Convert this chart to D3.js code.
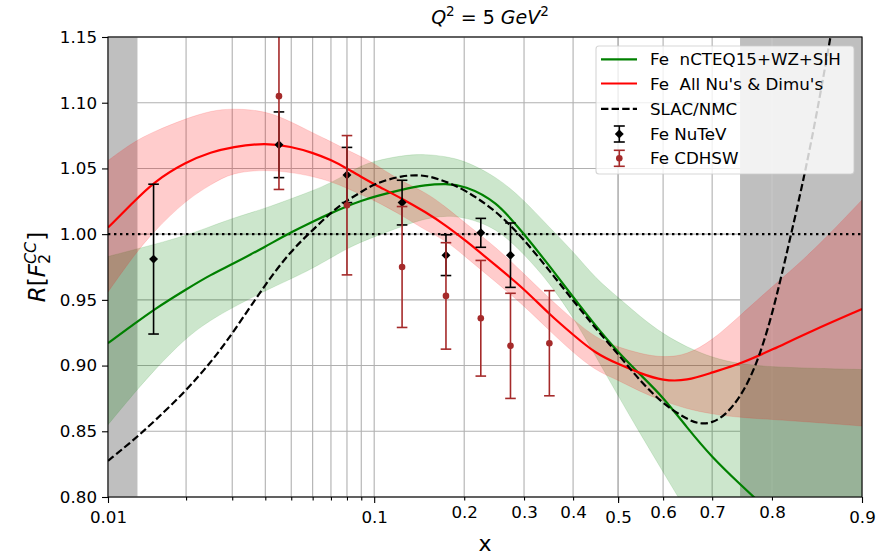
<!DOCTYPE html>
<html><head><meta charset="utf-8">
<script src="https://cdn.jsdelivr.net/npm/d3@7"></script>
<style>
body{margin:0;background:#fff;}
svg{display:block;font-family:"DejaVu Sans",sans-serif;}
</style></head><body>
<svg id="chart" width="889" height="557"></svg>
<script>
// ---------------- data ----------------
const xGrid = [0.01,0.0125,0.015,0.02,0.025,0.03,0.04,0.05,0.06,0.07,0.08,0.09,0.1,0.125,0.15,0.175,0.2,0.25,0.3,0.35,0.4,0.45,0.5,0.55,0.6,0.65,0.7,0.75,0.8,0.85,0.9];
const nctqCentral = [0.917,0.931,0.9425,0.958,0.9695,0.977,0.9905,1.0015,1.0095,1.016,1.0213,1.0253,1.0285,1.034,1.0375,1.0385,1.037,1.0255,1.000,0.976,0.952,0.930,0.910,0.893,0.876,0.853,0.830,0.8097,0.787,0.76,0.72];
const nctqUpper = [0.983,0.988,0.992,0.999,1.006,1.012,1.0196,1.027,1.033,1.039,1.046,1.052,1.0555,1.060,1.061,1.059,1.056,1.044,1.026,1.005,0.987,0.966,0.952,0.937,0.924,0.914,0.906,0.901,0.899,0.898,0.897];
const nctqLower = [0.855,0.878,0.896,0.9215,0.935,0.944,0.957,0.966,0.974,0.982,0.989,0.994,0.998,1.006,1.012,1.014,1.013,1.005,0.985,0.963,0.937,0.907,0.877,0.848,0.819,0.789,0.758,0.727,0.695,0.665,0.63];
const nuCentral = [1.005,1.024,1.0397,1.055,1.0625,1.0664,1.0695,1.0666,1.062,1.0565,1.050,1.0435,1.038,1.027,1.0168,1.0066,0.996,0.976,0.9584,0.939,0.9235,0.909,0.9012,0.894,0.8884,0.8884,0.8948,0.9012,0.912,0.926,0.943];
const nuUpper = [1.056,1.070,1.078,1.088,1.094,1.0956,1.094,1.0855,1.077,1.0705,1.064,1.059,1.0537,1.0397,1.032,1.0206,1.009,0.990,0.9698,0.951,0.935,0.921,0.914,0.909,0.906,0.908,0.919,0.938,0.960,0.985,1.026];
const nuLower = [0.956,0.983,1.002,1.026,1.038,1.047,1.049,1.047,1.044,1.040,1.035,1.030,1.0257,1.0143,1.0028,0.9952,0.9835,0.9634,0.9456,0.9266,0.910,0.896,0.889,0.880,0.873,0.867,0.863,0.8605,0.859,0.857,0.854];
const slacX = [0.01,0.0125,0.015,0.02,0.025,0.03,0.04,0.05,0.06,0.07,0.08,0.09,0.1,0.125,0.15,0.175,0.2,0.25,0.3,0.35,0.4,0.45,0.5,0.55,0.6,0.65,0.675,0.7,0.725,0.75,0.775,0.8,0.825,0.85,0.875,0.9];
const slacY = [0.8275,0.843,0.857,0.8808,0.903,0.924,0.962,0.9876,1.003,1.0165,1.0257,1.032,1.0384,1.0448,1.0452,1.0400,1.034,1.018,0.996,0.9723,0.9495,0.928,0.9088,0.888,0.8707,0.8592,0.8555,0.8562,0.8625,0.8757,0.898,0.937,0.997,1.065,1.165,1.29];
const nutevX = [0.015,0.045,0.08,0.125,0.175,0.225,0.275];
const nutevY = [0.981,1.068,1.045,1.024,0.984,1.001,0.984];
const nutevErr = [0.057,0.025,0.021,0.017,0.0155,0.011,0.0245];
const cdhswX = [0.045,0.08,0.125,0.175,0.225,0.275,0.35];
const cdhswY = [1.105,1.022,0.975,0.953,0.936,0.915,0.917];
const cdhswErr = [0.071,0.053,0.046,0.0405,0.044,0.040,0.040];
const grayFrom = [0.01,0.75];
const grayTo = [0.013,0.9];
const xMajorTicks = [0.01,0.1,0.5,0.9];
const xMajorLabels = ["0.01","0.1","0.5","0.9"];
const xMinorTicks = [0.02,0.03,0.04,0.05,0.06,0.07,0.08,0.09,0.2,0.3,0.4,0.5,0.6,0.7,0.8];
const xMinorLabels = ["","","","","","","","","0.2","0.3","0.4","","0.6","0.7","0.8"];
const yTicks = [0.80,0.85,0.90,0.95,1.00,1.05,1.10,1.15];
const legendLabels = ["Fe  nCTEQ15+WZ+SIH","Fe  All Nu's & Dimu's","SLAC/NMC","Fe NuTeV","Fe CDHSW"];

// ---------------- setup ----------------
const W=889,H=557;
const plot={left:108,right:862,top:37,bottom:497};
const logit=p=>Math.log(p/(1-p));
const xScale=d3.scaleLinear().domain([logit(0.01),logit(0.9)]).range([plot.left,plot.right]);
const X=p=>xScale(logit(p));
const yScale=d3.scaleLinear().domain([0.80,1.15]).range([plot.bottom,plot.top]);
const GREEN="#008000", RED="#ff0000", BROWN="#a52a2a";

const svg=d3.select('#chart');
svg.append('rect').attr('width',W).attr('height',H).attr('fill','#fff');
svg.append('defs').append('clipPath').attr('id','clip').append('rect')
  .attr('x',plot.left).attr('y',plot.top).attr('width',plot.right-plot.left).attr('height',plot.bottom-plot.top);

// grid
const gGrid=svg.append('g');
gGrid.selectAll('line.v').data(xMinorTicks.concat(xMajorTicks)).join('line').attr('class','v')
  .attr('x1',d=>X(d)).attr('x2',d=>X(d)).attr('y1',plot.top).attr('y2',plot.bottom)
  .attr('stroke','#b0b0b0').attr('stroke-width',1.1);
gGrid.selectAll('line.h').data(yTicks).join('line').attr('class','h')
  .attr('y1',d=>yScale(d)).attr('y2',d=>yScale(d)).attr('x1',plot.left).attr('x2',plot.right)
  .attr('stroke','#b0b0b0').attr('stroke-width',1.1);

const g=svg.append('g').attr('clip-path','url(#clip)');
// gray excluded regions
g.selectAll('rect.gray').data(grayFrom.map((a,i)=>[a,grayTo[i]])).join('rect')
  .attr('x',d=>X(d[0])).attr('width',d=>X(d[1])-X(d[0]))
  .attr('y',plot.top).attr('height',plot.bottom-plot.top).attr('fill','#bfbfbf');
g.append('line').attr('x1',X(0.8)).attr('x2',X(0.8)).attr('y1',plot.top).attr('y2',plot.bottom)
  .attr('stroke','#c9c9c9').attr('stroke-width',1);

const curve=d3.curveBasis;
const band=(lo,hi)=>xGrid.map((x,i)=>({x,lo:lo[i],hi:hi[i]}));
const area=d3.area().x(d=>X(d.x)).y0(d=>yScale(d.lo)).y1(d=>yScale(d.hi)).curve(curve);
const line=d3.line().x(d=>X(d.x)).y(d=>yScale(d.y)).curve(curve);

g.append('path').attr('d',area(band(nctqLower,nctqUpper))).attr('fill',GREEN).attr('fill-opacity',0.2)
  .attr('stroke',GREEN).attr('stroke-opacity',0.12).attr('stroke-width',1);
g.append('path').attr('d',area(band(nuLower,nuUpper))).attr('fill',RED).attr('fill-opacity',0.2)
  .attr('stroke',RED).attr('stroke-opacity',0.12).attr('stroke-width',1);

// dotted line at 1
g.append('line').attr('x1',plot.left).attr('x2',plot.right).attr('y1',yScale(1)).attr('y2',yScale(1))
  .attr('stroke','#000').attr('stroke-width',2.4).attr('stroke-dasharray','2.4,3.6');

g.append('path').attr('d',line(xGrid.map((x,i)=>({x,y:nctqCentral[i]})))).attr('fill','none')
  .attr('stroke',GREEN).attr('stroke-width',2.2);
g.append('path').attr('d',line(xGrid.map((x,i)=>({x,y:nuCentral[i]})))).attr('fill','none')
  .attr('stroke',RED).attr('stroke-width',2.2);
g.append('path').attr('d',line(slacX.map((x,i)=>({x,y:slacY[i]})))).attr('fill','none')
  .attr('stroke','#000').attr('stroke-width',2.2).attr('stroke-dasharray','7.4,3.2');

// error bars
function errorbars(xs,ys,es,color,marker){
  const eg=g.append('g');
  const cap=5.3;
  xs.forEach((x,i)=>{
    const cx=X(x), y0=yScale(ys[i]-es[i]), y1=yScale(ys[i]+es[i]);
    eg.append('line').attr('x1',cx).attr('x2',cx).attr('y1',y0).attr('y2',y1).attr('stroke',color).attr('stroke-width',1.6);
    [y0,y1].forEach(yy=>eg.append('line').attr('x1',cx-cap).attr('x2',cx+cap).attr('y1',yy).attr('y2',yy).attr('stroke',color).attr('stroke-width',1.6));
    if(marker==='D'){
      eg.append('path').attr('d',d3.symbol(d3.symbolSquare,40)()).attr('transform',`translate(${cx},${yScale(ys[i])}) rotate(45)`).attr('fill',color);
    } else {
      eg.append('circle').attr('cx',cx).attr('cy',yScale(ys[i])).attr('r',3.3).attr('fill',color);
    }
  });
}
errorbars(nutevX,nutevY,nutevErr,'#000','D');
errorbars(cdhswX,cdhswY,cdhswErr,BROWN,'o');

// axes
const fs=16.7;
const yAxis=svg.append('g').attr('transform',`translate(${plot.left},0)`)
  .call(d3.axisLeft(yScale).tickValues(yTicks).tickFormat(d3.format('.2f')).tickSize(6).tickPadding(5).tickSizeOuter(0));
const xAxisMinor=svg.append('g').attr('transform',`translate(0,${plot.bottom})`)
  .call(d3.axisBottom(xScale).tickValues(xMinorTicks.map(logit)).tickFormat((d,i)=>xMinorLabels[i]).tickSize(3.5).tickPadding(6).tickSizeOuter(0));
const xAxisMajor=svg.append('g').attr('transform',`translate(0,${plot.bottom})`)
  .call(d3.axisBottom(xScale).tickValues(xMajorTicks.map(logit)).tickFormat((d,i)=>xMajorLabels[i]).tickSize(6).tickPadding(8).tickSizeOuter(0));
[yAxis,xAxisMinor,xAxisMajor].forEach(a=>{
  a.attr('font-family','"DejaVu Sans",sans-serif').attr('font-size',fs);
  a.selectAll('line').attr('stroke','#000').attr('stroke-width',1.1);
  a.selectAll('text').attr('fill','#000');
  a.select('.domain').remove();
});
// frame
svg.append('rect').attr('x',plot.left).attr('y',plot.top).attr('width',plot.right-plot.left).attr('height',plot.bottom-plot.top)
  .attr('fill','none').attr('stroke','#000').attr('stroke-width',1.1);

// legend
const lg=svg.append('g');
lg.append('rect').attr('x',596).attr('y',46).attr('width',258).attr('height',128).attr('rx',3)
  .attr('fill','#fff').attr('fill-opacity',0.8).attr('stroke','#cccccc').attr('stroke-opacity',0.8).attr('stroke-width',1.1);
const rowsY=[59.3,83.5,108.8,134,158.3];
lg.append('line').attr('x1',601).attr('x2',637).attr('y1',rowsY[0]).attr('y2',rowsY[0]).attr('stroke',GREEN).attr('stroke-width',2.2);
lg.append('line').attr('x1',601).attr('x2',637).attr('y1',rowsY[1]).attr('y2',rowsY[1]).attr('stroke',RED).attr('stroke-width',2.2);
lg.append('line').attr('x1',601).attr('x2',637).attr('y1',rowsY[2]).attr('y2',rowsY[2]).attr('stroke','#000').attr('stroke-width',2.2).attr('stroke-dasharray','7.4,3.2');
[[rowsY[3],'#000','D'],[rowsY[4],BROWN,'o']].forEach(([yy,c,m])=>{
  const cx=619.3;
  lg.append('line').attr('x1',cx).attr('x2',cx).attr('y1',yy-8).attr('y2',yy+8).attr('stroke',c).attr('stroke-width',1.6);
  [yy-8,yy+8].forEach(v=>lg.append('line').attr('x1',cx-5.5).attr('x2',cx+5.5).attr('y1',v).attr('y2',v).attr('stroke',c).attr('stroke-width',1.6));
  if(m==='D') lg.append('path').attr('d',d3.symbol(d3.symbolSquare,40)()).attr('transform',`translate(${cx},${yy}) rotate(45)`).attr('fill',c);
  else lg.append('circle').attr('cx',cx).attr('cy',yy).attr('r',3.3).attr('fill',c);
});
lg.selectAll('text').data(legendLabels).join('text').attr('x',650).attr('y',(d,i)=>rowsY[i]+6)
  .attr('font-size',fs).attr('fill','#000').style('white-space','pre').text(d=>d);

// title
const title=svg.append('text').attr('x',490).attr('y',24).attr('text-anchor','middle').attr('font-size',19).attr('fill','#000');
title.append('tspan').attr('font-style','italic').text('Q');
title.append('tspan').attr('font-size',13.5).attr('dy',-8).text('2');
title.append('tspan').attr('dy',8).style('white-space','pre').text(' = 5 ');
title.append('tspan').attr('font-style','italic').text('GeV');
title.append('tspan').attr('font-size',13.5).attr('dy',-8).text('2');

// x label
svg.append('text').attr('x',485).attr('y',551).attr('text-anchor','middle').attr('font-size',22).attr('fill','#000').text('x');

// y label
const yl=svg.append('g').attr('transform',`translate(45,${(plot.top+plot.bottom)/2}) rotate(-90)`);
const ylt=yl.append('text').attr('text-anchor','middle').attr('font-size',23).attr('fill','#000');
ylt.append('tspan').attr('font-style','italic').text('R');
ylt.append('tspan').text('[');
ylt.append('tspan').attr('font-style','italic').text('F');
const sup=ylt.append('tspan').attr('font-style','italic').attr('font-size',16).attr('dy',-9).text('CC');
const supW=sup.node().getComputedTextLength();
const sub=ylt.append('tspan').attr('font-size',16).attr('dx',-supW).attr('dy',14).text('2');
const subW=sub.node().getComputedTextLength();
ylt.append('tspan').attr('dx',supW-subW+1).attr('dy',-5).text(']');
</script>
</body></html>
